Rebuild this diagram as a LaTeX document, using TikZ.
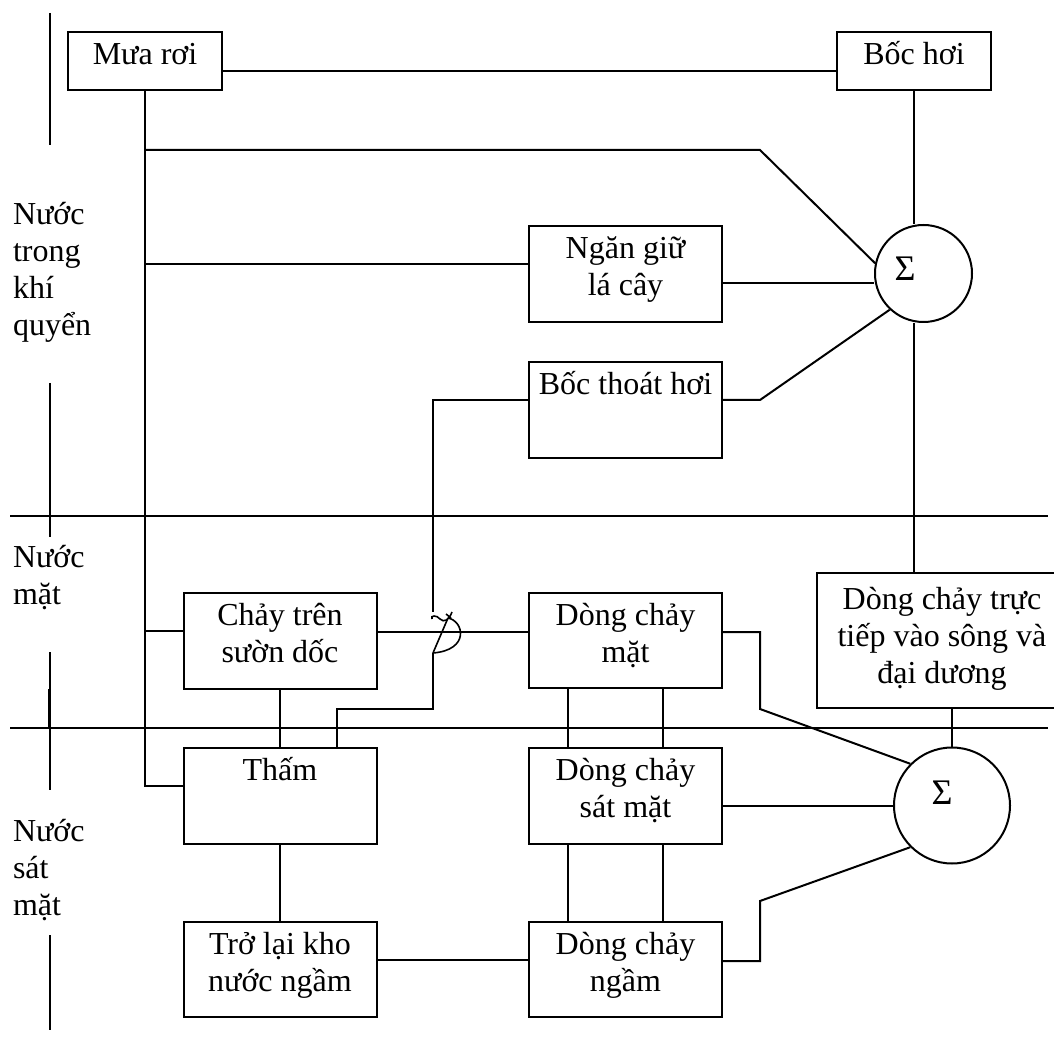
\documentclass[tikz,border=0pt]{standalone}
\usepackage{fontspec}
\setmainfont{Liberation Serif}
\newcommand\fstrut{\rule{0pt}{23pt}}
\begin{document}
\begin{tikzpicture}[x=0.75pt,y=-0.75pt,line width=1.5pt,
  box/.style={draw, rectangle, inner sep=0pt, minimum width=144.75pt, minimum height=72pt},
  smallbox/.style={box, minimum width=115.5pt, minimum height=43.5pt},
  sumnode/.style={draw, circle, inner sep=0pt},
  txt/.style={font=\fontsize{24pt}{27.75pt}\selectfont, inner sep=0pt, align=center, anchor=north},
  side/.style={txt, align=left, anchor=north west},
  sig/.style={font=\fontsize{27pt}{30pt}\selectfont, inner sep=0pt}
]
\useasboundingbox (0,0) rectangle (1054,1048);

% boxes
\node[smallbox] (mua) at (145,61) {};
\node[smallbox] (boc) at (914,61) {};
\node[box] (ngan) at (625.5,274) {};
\node[box] (bth) at (625.5,410) {};
\node[box] (chay) at (280,641) {};
\node[box] (tham) at (280,796) {};
\node[box, minimum height=71.25pt] (trolai) at (280,969.5) {};
\node[box, minimum height=71.25pt] (dmat) at (625.5,640.5) {};
\node[box] (dsat) at (625.5,796) {};
\node[box, minimum height=71.25pt] (dngam) at (625.5,969.5) {};
\node[box, minimum width=187.5pt, minimum height=101.25pt] (dtt) at (942,640.5) {};
\node[sumnode, minimum size=72.75pt] (s1) at (923.5,273.5) {};
\node[sumnode, minimum size=87pt] (s2) at (952,805.5) {};

% texts
\node[txt] (tmua) at ([yshift=-1.5pt]mua.north) {\fstrut Mưa rơi};
\node[txt] (tboc) at ([yshift=-1.5pt]boc.north) {\fstrut Bốc hơi};
\node[txt] (tngan) at ([yshift=-1.5pt]ngan.north) {\fstrut Ngăn giữ\\lá cây};
\node[txt] (tbth) at ([yshift=-1.5pt]bth.north) {\fstrut Bốc thoát hơi};
\node[txt] (tchay) at ([yshift=-1.5pt]chay.north) {\fstrut Chảy trên\\sườn dốc};
\node[txt] (ttham) at ([yshift=-1.5pt]tham.north) {\fstrut Thấm};
\node[txt] (ttro) at ([yshift=-1.5pt]trolai.north) {\fstrut Trở lại kho\\nước ngầm};
\node[txt] (tdmat) at ([yshift=-1.5pt]dmat.north) {\fstrut Dòng chảy\\mặt};
\node[txt] (tdsat) at ([yshift=-1.5pt]dsat.north) {\fstrut Dòng chảy\\sát mặt};
\node[txt] (tdngam) at ([yshift=-1.5pt]dngam.north) {\fstrut Dòng chảy\\ngầm};
\node[txt] (tdtt) at ([yshift=-4pt]dtt.north) {\fstrut Dòng chảy trực\\tiếp vào sông và\\đại dương};
\node[sig] (sg1) at (905,269) {Σ};
\node[sig] (sg2) at (942,792.5) {Σ};

\node[side] (l1) at (12,193) {\fstrut Nước\\trong\\khí\\quyển};
\node[side] (l2) at (12,536) {\fstrut Nước\\mặt};
\node[side] (l3) at (12,810) {\fstrut Nước\\sát\\mặt};

% helper coordinates
\coordinate (k1) at (760,150);
\coordinate (k2) at (760,400);
\coordinate (k3) at (433,612);
\coordinate (k4) at (433,653);
\coordinate (k5) at (433,709);
\coordinate (k6) at (337,709);
\coordinate (k8) at (760,709);
\coordinate (k10) at (760,901);
\coordinate (tw) at ([yshift=7.5pt]tham.west);
\coordinate (nw) at ([yshift=7.5pt]ngan.west);
\coordinate (ne) at ([yshift=-6.75pt]ngan.east);
\coordinate (be) at ([yshift=7.5pt]bth.east);
\coordinate (bw) at ([yshift=7.5pt]bth.west);
\coordinate (cw) at ([yshift=7.5pt]chay.west);
\coordinate (ce) at ([yshift=6.75pt]chay.east);
\coordinate (te) at ([yshift=7.125pt]trolai.east);
\coordinate (de) at ([yshift=6.375pt]dmat.east);
\coordinate (se) at ([yshift=-7.5pt]dsat.east);
\coordinate (ge) at ([yshift=6.375pt]dngam.east);

% connectors
\draw ([yshift=-7.5pt]mua.east) -- ([yshift=-7.5pt]boc.west);
\draw (boc.south) -- (s1.north -| boc.south);
\draw (s1.south -| boc.south) -- (dtt.north -| boc.south);
\draw (mua.south) -- (mua.south |- tw) -- (tw);
\draw (mua.south |- k1) -- (k1) -- (s1.168);
\draw (mua.south |- nw) -- (nw);
\draw (ne) -- (ne -| s1.west);
\draw (be) -- (k2) -- (s1.227);
\draw (bw) -- (bw -| k3) -- (k3);
\draw (k4) -- (k5) -- (k6) -- (k6 |- tham.north);
\draw (mua.south |- cw) -- (cw);
\draw (ce) -- (ce -| dmat.west);
\draw (chay.south) -- (tham.north);
\draw (tham.south) -- (trolai.north);
\draw (te) -- (te -| dngam.west);
\draw ([xshift=-43.125pt]dmat.south) -- ([xshift=-43.125pt]dsat.north);
\draw ([xshift=28.125pt]dmat.south) -- ([xshift=28.125pt]dsat.north);
\draw ([xshift=-43.125pt]dsat.south) -- ([xshift=-43.125pt]dngam.north);
\draw ([xshift=28.125pt]dsat.south) -- ([xshift=28.125pt]dngam.north);
\draw (de) -- (de -| k8) -- (k8) -- (s2.135);
\draw (se) -- (se -| s2.west);
\draw (ge) -- (ge -| k10) -- (k10) -- (s2.225);
\draw (s2.north) -- (dtt.south -| s2.north);

% hand-drawn crossing mark
\draw[line width=1.2pt] (432,619) .. controls (430,615) and (437,615) .. (440,619)
  .. controls (444,623) and (449,620) .. (452,612);
\draw[line width=1.2pt] (446,614) -- (451,618);
\draw[line width=1.2pt] (448,618) -- (k4);
\draw[line width=1.2pt] (448,618) .. controls (464,621) and (470,650) .. (k4);

% zone dividers
\draw (10,516) -- (1048,516);
\draw (10,728) -- (1048,728);
\draw (50,13) -- (50,145);
\draw (50,383) -- (50,537);
\draw (50,652) -- (50,790);
\draw (48.7,689) -- (48.7,728);
\draw (50,935) -- (50,1030);
\end{tikzpicture}
\end{document}
